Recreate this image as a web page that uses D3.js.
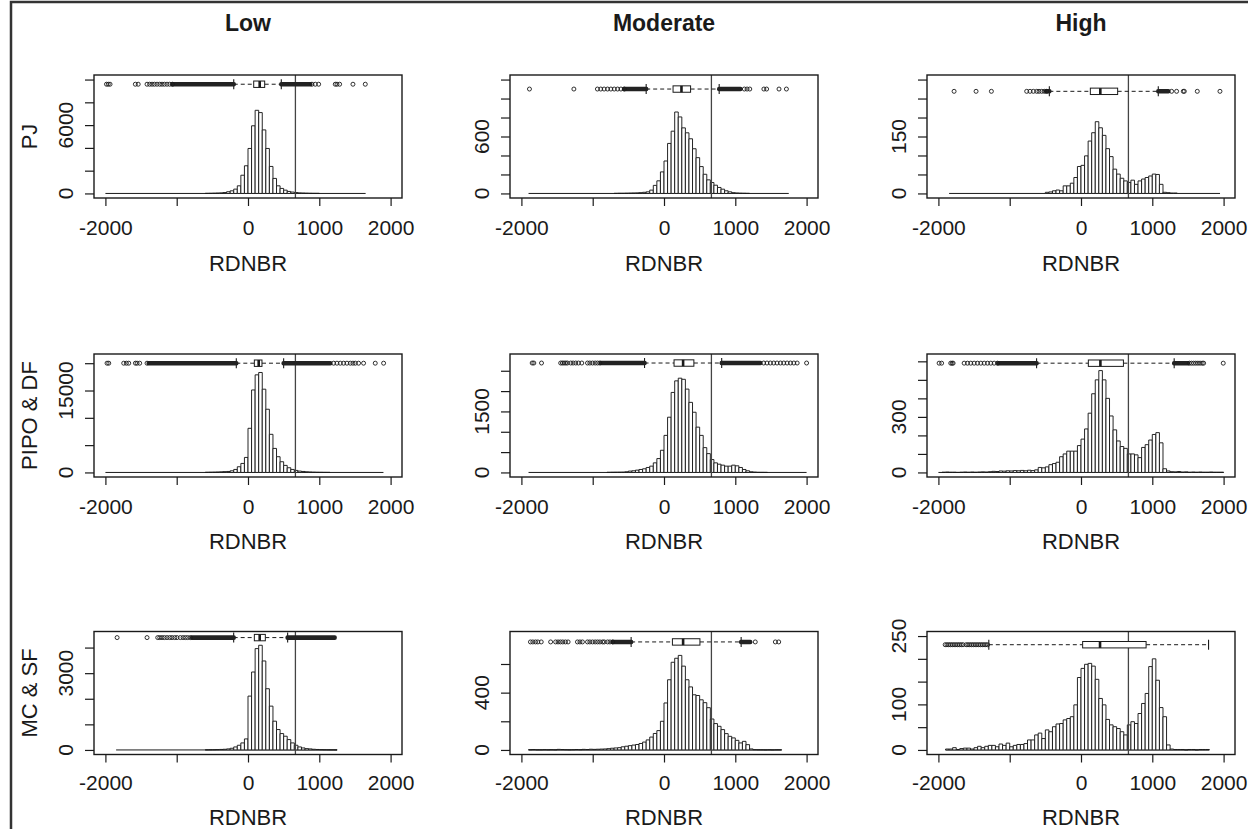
<!DOCTYPE html>
<html>
<head>
<meta charset="utf-8">
<script src="https://cdn.jsdelivr.net/npm/d3@7"></script>
<style>
  body { margin: 0; background: #fff; }
  svg { display: block; font-family: "Liberation Sans", Arial, sans-serif; }
</style>
</head>
<body>
<svg id="chart" width="1248" height="829"></svg>
<script>
// column and row headings
const severity = ["Low", "Moderate", "High"];
const forestTypes = ["PJ", "PIPO & DF", "MC & SF"];

// RdNBR threshold drawn as vertical line
const highThreshold = 665;
const xTicks = [-2000, -1000, 0, 1000, 2000];
const xTickLabels = ["-2000", "", "0", "1000", "2000"];
const binWidth = 50;

// panels go row by row: PJ low, PJ moderate, PJ high, PIPO low ...
const yTop = [10000, 1200, 300, 20850, 2800, 615, 4450, 795, 250];
const yStep = [2000, 200, 50, 5000, 500, 100, 1000, 200, 50];
const yLabels = [[0, 6000], [0, 600], [0, 150], [0, 15000], [0, 1500], [0, 300], [0, 3000], [0, 400], [0, 100, 250]];

// extent of the histogram breaks
const histRange = [[-2000, 1650], [-1900, 1750], [-1850, 1950], [-2000, 1900], [-1900, 2000],
                   [-2000, 2000], [-1850, 1250], [-1900, 1650], [-1900, 1800]];
// lower edge of the first listed bin
const countsFrom = [-600, -700, -500, -600, -800, -1950, -600, -1900, -1900];

const pjLow = [10, 15, 25, 35, 50, 80, 150, 230, 380, 670, 1600, 2430, 3950, 5940, 7300, 7100, 5580, 3950,
  2370, 1320, 670, 440, 290, 175, 120, 80, 50, 35, 25, 15, 10, 8];
const pjMod = [1, 2, 2, 3, 4, 5, 6, 8, 12, 17, 35, 85, 133, 227, 342, 527, 656, 858, 806, 691, 639, 576, 471,
  377, 283, 202, 143, 115, 87, 63, 45, 28, 17, 8, 5, 3, 2, 1];
const pjHigh = [3, 4, 7, 9, 7, 20, 20, 27, 42, 71, 74, 99, 138, 160, 189, 173, 153, 118, 97, 64, 51, 40, 33, 29,
  35, 24, 33, 38, 42, 46, 51, 50, 24, 3, 2, 1, 1];
const pipoLow = [30, 45, 60, 80, 110, 150, 180, 300, 550, 1040, 1650, 2750, 8080, 15100, 17870, 18300, 15240,
  11570, 6980, 4400, 2880, 1960, 1290, 860, 550, 370, 245, 180, 120, 80, 55, 35, 25, 15, 10];
const pipoMod = [3, 5, 6, 7, 8, 16, 33, 41, 57, 73, 90, 122, 155, 236, 341, 545, 911, 1358, 1967, 2252, 2317,
  2290, 2049, 1723, 1480, 1114, 911, 610, 463, 317, 236, 203, 179, 155, 155, 179, 163, 122, 73, 41, 16, 8, 3, 2, 1];
const pipoHigh = [1, 2, 1, 1, 0, 1, 2, 1, 2, 1, 2, 3, 2, 4, 6, 5, 8, 7, 9, 8, 10, 9, 11, 9, 12, 10, 14, 27, 25,
  30, 42, 48, 55, 85, 100, 115, 115, 115, 145, 180, 235, 320, 425, 500, 550, 500, 400, 305, 230, 170, 140, 130,
  100, 100, 95, 80, 135, 150, 175, 205, 215, 160, 20, 8, 4, 3, 5, 2, 3, 1, 2, 1, 2, 1, 1, 2, 1, 1, 1];
const mcLow = [5, 8, 10, 14, 20, 26, 40, 65, 118, 183, 275, 431, 2104, 3045, 3960, 4090, 3477, 2392, 1712, 1124,
  797, 640, 536, 405, 275, 183, 118, 78, 52, 40, 26, 18, 12, 8, 5, 3, 2];
const mcMod = [2, 3, 1, 1, 2, 1, 2, 1, 4, 3, 2, 1, 2, 3, 2, 4, 3, 5, 4, 5, 6, 7, 9, 12, 14, 16, 22, 26, 30, 34,
  38, 45, 55, 70, 90, 115, 135, 200, 328, 490, 612, 640, 660, 585, 490, 440, 385, 380, 350, 330, 295, 216, 184,
  165, 142, 114, 95, 84, 67, 49, 60, 37, 7, 2, 1, 1, 0, 1, 0, 1, 1];
const mcHigh = [2, 2, 5, 1, 3, 4, 4, 2, 5, 8, 5, 8, 10, 10, 7, 13, 10, 15, 7, 10, 12, 12, 14, 22, 22, 33, 37, 25,
  44, 40, 51, 57, 58, 66, 69, 73, 99, 159, 179, 188, 190, 184, 155, 113, 99, 67, 55, 51, 47, 40, 33, 55, 62, 58,
  80, 102, 124, 183, 200, 153, 93, 73, 11, 2, 1, 1, 1, 0, 1, 1, 0, 1, 1, 1];
const counts = [pjLow, pjMod, pjHigh, pipoLow, pipoMod, pipoHigh, mcLow, mcMod, mcHigh];

// horizontal boxplots: lower whisker, Q1, median, Q3, upper whisker
const boxStats = [[-200, 80, 164, 234, 467], [-250, 127, 245, 373, 774], [-444, 131, 271, 514, 1084],
                  [-164, 89, 150, 196, 500], [-273, 141, 268, 419, 809], [-623, 103, 272, 595, 1307],
                  [-201, 89, 164, 243, 556], [-461, 118, 268, 504, 1082], [-1293, 23, 267, 913, 1789]];
const boxAt = [9590, 1100, 269, 20000, 2690, 590, 4390, 754, 231];
const outliers = [
  [-1985, -1960, -1935, -1580, -1540, -1416, -1380, -1346, -1313, -1276, -1238, -1206, -1173, -1136, -1098, -1060,
   897, 944, 991, 1224, 1248, 1285, 1472, 1645],
  [-1887, -1264, -934, -887, -840, -792, -745, -698, -651, -604, -557, 1127, 1165, 1203, 1401, 1439, 1613, 1717],
  [-1780, -1472, -1257, -762, -715, -668, -621, -589, -551, -514, -481, 1271, 1341, 1435, 1449, 1631, 1949],
  [-1977, -1953, -1743, -1706, -1673, -1579, -1556, -1519, -1416, 1201, 1248, 1294, 1341, 1388, 1435, 1472, 1505,
   1551, 1621, 1785, 1902],
  [-1849, -1826, -1718, -1449, -1425, -1402, -1378, -1355, -1308, -1275, -1238, -1200, -1153, -1073, -1040, -1002,
   -965, -932, -899, 1398, 1445, 1492, 1539, 1586, 1633, 1680, 1727, 1774, 1821, 1868, 2000],
  [-1990, -1955, -1827, -1808, -1794, -1639, -1592, -1546, -1499, -1452, -1405, -1358, -1311, -1265, -1218, -1171,
   1520, 1550, 1580, 1610, 1640, 1670, 1700, 1720, 1995],
  [-1836, -1416, -1266, -1238, -1206, -1173, -1136, -1098, -1066, -1028, -996, -949, -911, -878, -846, -808],
  [-1873, -1840, -1802, -1769, -1722, -1590, -1520, -1486, -1453, -1420, -1382, -1345, -1214, -1179, -1144, -1073,
   -1040, -1002, -965, -932, -899, -861, -838, -791, -758, -720, 1280, 1562, 1609],
  [-1905, -1880, -1855, -1830, -1805, -1780, -1755, -1730, -1705, -1680, -1655, -1610, -1585, -1560, -1535, -1510,
   -1485, -1460, -1435, -1410, -1385, -1360, -1335, -1310]
];
// stretches where outlier circles pile up into a solid run
const outlierRuns = [
  [[-1060, -200], [467, 874]],
  [[-560, -250], [774, 1071]],
  [[-490, -444], [1084, 1224]],
  [[-1393, -164], [500, 1154]],
  [[-885, -273], [809, 1351]],
  [[-1161, -623], [1307, 1500]],
  [[-785, -201], [556, 1215]],
  [[-720, -461], [1082, 1209]],
  []
];

const svg = d3.select("#chart");
const boxLeft = [94, 510, 927];
const boxTop = [75, 354, 631.5];
const tickLabelGap = [37, 37, 35.5];
const titleGap = [73, 72, 70.5];
const boxW = 308, boxH = 123;
const ink = "#1a1a1a";

// outer frame of the figure
svg.append("path")
    .attr("d", "M11,829V2H1248")
    .attr("fill", "none")
    .attr("stroke", "#333")
    .attr("stroke-width", 2.5);

severity.forEach(function(s, c) {
    svg.append("text")
        .attr("x", boxLeft[c] + boxW / 2)
        .attr("y", 31)
        .attr("text-anchor", "middle")
        .attr("font-size", 23)
        .attr("font-weight", "bold")
        .attr("fill", ink)
        .text(s);
});

for (let p = 0; p < 9; p++) {
    const r = Math.floor(p / 3), c = p % 3;
    const x0 = boxLeft[c], y0 = boxTop[r];

    const x = d3.scaleLinear().domain([-2160, 2160]).range([x0, x0 + boxW]);
    const y = d3.scaleLinear().domain([-0.04 * yTop[p], 1.04 * yTop[p]]).range([y0 + boxH, y0]);
    const g = svg.append("g");

    // zero-count bins still show as a line along 0
    g.append("line")
        .attr("x1", x(histRange[p][0])).attr("x2", x(histRange[p][1]))
        .attr("y1", y(0)).attr("y2", y(0))
        .attr("stroke", ink).attr("stroke-width", 1);

    // histogram bars
    g.selectAll("path.bar")
        .data(counts[p])
        .join("path")
        .attr("class", "bar")
        .attr("d", function(d, i) {
            const a = x(countsFrom[p] + i * binWidth), b = x(countsFrom[p] + (i + 1) * binWidth);
            return "M" + a + "," + y(0) + "V" + y(d) + "H" + b + "V" + y(0) + "Z";
        })
        .attr("fill", "#fff")
        .attr("stroke", ink)
        .attr("stroke-width", 0.95);

    // threshold line
    g.append("line")
        .attr("x1", x(highThreshold)).attr("x2", x(highThreshold))
        .attr("y1", y0).attr("y2", y0 + boxH)
        .attr("stroke", "#444").attr("stroke-width", 1.3);

    // boxplot on top of the histogram
    const bs = boxStats[p];
    const yb = y(boxAt[p]);
    const bp = g.append("g");
    [[bs[0], bs[1]], [bs[3], bs[4]]].forEach(function(seg) {
        bp.append("line")
            .attr("x1", x(seg[0])).attr("x2", x(seg[1]))
            .attr("y1", yb).attr("y2", yb)
            .attr("stroke", ink).attr("stroke-width", 1)
            .attr("stroke-dasharray", "4,3");
    });
    [bs[0], bs[4]].forEach(function(v) {
        bp.append("line")
            .attr("x1", x(v)).attr("x2", x(v))
            .attr("y1", yb - 5).attr("y2", yb + 5)
            .attr("stroke", ink).attr("stroke-width", 1.1);
    });
    bp.append("rect")
        .attr("x", x(bs[1])).attr("y", yb - 3.2)
        .attr("width", x(bs[3]) - x(bs[1])).attr("height", 6.4)
        .attr("fill", "#fff").attr("stroke", ink).attr("stroke-width", 1);
    bp.append("line")
        .attr("x1", x(bs[2])).attr("x2", x(bs[2]))
        .attr("y1", yb - 3.2).attr("y2", yb + 3.2)
        .attr("stroke", ink).attr("stroke-width", 2.6);

    bp.selectAll("rect.run")
        .data(outlierRuns[p])
        .join("rect")
        .attr("class", "run")
        .attr("x", d => x(d[0]) - 2.2)
        .attr("width", d => x(d[1]) - x(d[0]) + 4.4)
        .attr("y", yb - 2.3).attr("height", 4.6)
        .attr("rx", 2)
        .attr("fill", "#222");

    bp.selectAll("circle")
        .data(outliers[p])
        .join("circle")
        .attr("cx", d => x(d)).attr("cy", yb).attr("r", 2)
        .attr("fill", "none").attr("stroke", ink).attr("stroke-width", 0.9);

    // plot box
    g.append("rect")
        .attr("x", x0).attr("y", y0).attr("width", boxW).attr("height", boxH)
        .attr("fill", "none").attr("stroke", ink).attr("stroke-width", 1.4);

    // x axis
    const xa = g.append("g")
        .attr("transform", "translate(0," + (y0 + boxH) + ")")
        .call(d3.axisBottom(x).tickValues(xTicks).tickSize(8).tickPadding(tickLabelGap[r] - 23)
            .tickFormat((d, i) => xTickLabels[i]));
    xa.select(".domain").remove();
    xa.attr("font-family", null).attr("font-size", 21);
    xa.selectAll("line").attr("stroke", ink).attr("stroke-width", 1.2);
    xa.selectAll("text").attr("fill", ink);

    // y axis ticks, labels written parallel to the axis
    const yTickVals = d3.range(0, yTop[p] + 1, yStep[p]);
    const ya = g.append("g")
        .attr("transform", "translate(" + x0 + ",0)")
        .call(d3.axisLeft(y).tickValues(yTickVals).tickSize(9).tickFormat(""));
    ya.select(".domain").remove();
    ya.selectAll("line").attr("stroke", ink).attr("stroke-width", 1.2);

    g.selectAll("text.ylab")
        .data(yLabels[p])
        .join("text")
        .attr("class", "ylab")
        .attr("transform", d => "translate(" + (x0 - 21) + "," + y(d) + ") rotate(-90)")
        .attr("text-anchor", "middle")
        .attr("font-size", 21)
        .attr("fill", ink)
        .text(d => d);

    g.append("text")
        .attr("x", x0 + boxW / 2)
        .attr("y", y0 + boxH + titleGap[r])
        .attr("text-anchor", "middle")
        .attr("font-size", 22)
        .attr("fill", ink)
        .text("RDNBR");

    if (c === 0) {
        g.append("text")
            .attr("transform", "translate(" + (x0 - 57) + "," + (y0 + boxH / 2) + ") rotate(-90)")
            .attr("text-anchor", "middle")
            .attr("font-size", 22)
            .attr("fill", ink)
            .text(forestTypes[r]);
    }
}
</script>
</body>
</html>
